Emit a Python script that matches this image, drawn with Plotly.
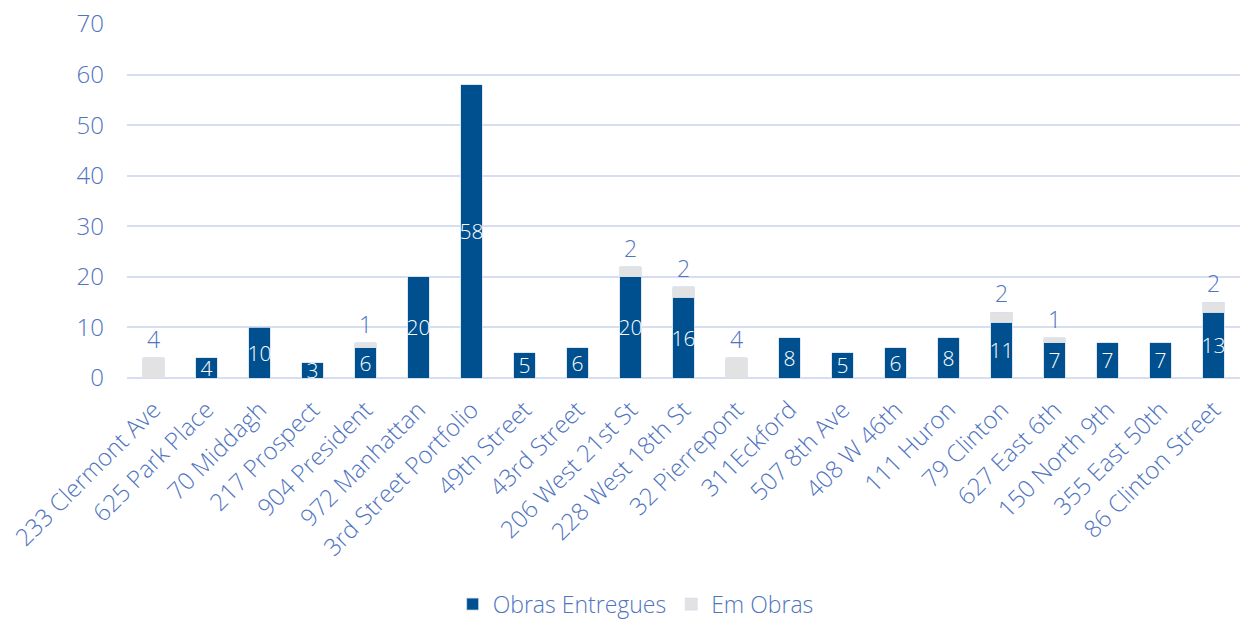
import plotly.graph_objects as go

categories = ["233 Clermont Ave", "625 Park Place", "70 Middagh", "217 Prospect", "904 President",
              "972 Manhattan", "3rd Street Portfolio", "49th Street", "43rd Street", "206 West 21st St",
              "228 West 18th St", "32 Pierrepont", "311Eckford", "507 8th Ave", "408 W 46th",
              "111 Huron", "79 Clinton", "627 East 6th", "150 North 9th", "355 East 50th", "86 Clinton Street"]
entregues = [0, 4, 10, 3, 6, 20, 58, 5, 6, 20, 16, 0, 8, 5, 6, 8, 11, 7, 7, 7, 13]
em_obras = [4, 0, 0, 0, 1, 0, 0, 0, 0, 2, 2, 4, 0, 0, 0, 0, 2, 1, 0, 0, 2]
y_ticks = [0, 10, 20, 30, 40, 50, 60, 70]

BLUE = "#00508F"
GREY = "#E2E2E2"
TXT = "#4F74C1"
FONT = "Open Sans"

def lab(v):
    return [str(x) if x else "" for x in v]

fig = go.Figure()
fig.add_trace(go.Bar(
    x=categories, y=[v if v else None for v in entregues], name="Obras Entregues",
    marker=dict(color=BLUE, line=dict(color="#D6DEF0", width=0.8)),
    text=lab(entregues), textposition="inside", insidetextanchor="middle", textangle=0,
    constraintext="none", cliponaxis=False,
    insidetextfont=dict(color="white", size=21, family=FONT, weight=300),
    hoverinfo="skip",
))
fig.add_trace(go.Bar(
    x=categories, y=[v if v else None for v in em_obras], name="Em Obras",
    marker=dict(color=GREY, line=dict(color="#D6DEF0", width=0.8)),
    text=lab(em_obras), textposition="outside", textangle=0, constraintext="none", cliponaxis=False,
    outsidetextfont=dict(color=TXT, size=23, family=FONT, weight=300),
    hoverinfo="skip",
))

fig.update_layout(
    barmode="stack", bargap=0.6,
    width=1247, height=619,
    margin=dict(l=127, r=7, t=24, b=241),
    paper_bgcolor="white", plot_bgcolor="white",
    font=dict(family=FONT, color=TXT, size=23, weight=300),
    showlegend=True,
    legend=dict(orientation="h", x=0.457, xanchor="center", yref="container", y=0.024, yanchor="middle",
                font=dict(size=23, color=TXT, family=FONT, weight=300),
                itemwidth=30, tracegroupgap=0, traceorder="normal"),
    xaxis=dict(tickangle=-45, tickfont=dict(size=24, color=TXT, family=FONT, weight=300),
               showgrid=False, showline=False, ticks="", zeroline=False, automargin=False,
               ticklabelstandoff=12),
    yaxis=dict(range=[0, 70], tickvals=y_ticks, showgrid=True, gridcolor="#D6DEF0", gridwidth=1.5,
               zeroline=True, zerolinecolor="#D6DEF0", zerolinewidth=1.5, showline=False, ticks="",
               tickfont=dict(size=24, color=TXT, family=FONT, weight=300), ticklabelstandoff=22,
               automargin=False),
)

fig.write_html("out.html", config={"displayModeBar": False},
               post_script="document.body.style.margin='0';document.body.style.overflow='hidden';")
